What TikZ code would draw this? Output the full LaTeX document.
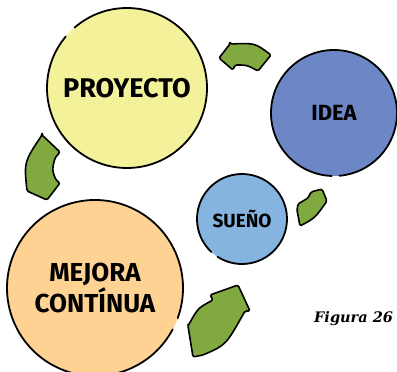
\documentclass[tikz,border=0pt]{standalone}
\usepackage{fontspec}
\setmainfont{Fira Sans}
\newfontfamily\capfont{DejaVu Serif}
\definecolor{cyel}{HTML}{F3F199}
\definecolor{corg}{HTML}{FDD293}
\definecolor{cidea}{HTML}{6D87C6}
\definecolor{csue}{HTML}{85B4E0}
\definecolor{cgrn}{HTML}{80AA40}
\begin{document}
\begin{tikzpicture}[x=1pt,y=-1pt,
  bubble/.style={circle,inner sep=0pt,outer sep=0pt,align=center,
    font=\fontsize{26}{29}\selectfont\bfseries},
  outline/.style={line width=1.8pt,line cap=round},
  garrow/.style={fill=cgrn,draw=black,line width=1.6pt,line join=round,rounded corners=1.5pt}]
\useasboundingbox (0,0) rectangle (397,372);
% circles
\node[bubble,fill=cyel,minimum size=160pt,font=\fontsize{27}{29}\selectfont\bfseries] (pro) at (127,88) {PROYECTO};
\node[bubble,fill=cidea,minimum size=126pt,font=\fontsize{22}{24}\selectfont\bfseries] (idea) at (334,113) {IDEA};
\node[bubble,fill=csue,minimum size=90pt,font=\fontsize{19}{21}\selectfont\bfseries] (sue) at (242,219) {SUEÑO};
\node[bubble,fill=corg,minimum size=176pt] (mej) at (95,288) {MEJORA\\CONTÍNUA};
% outlines with small gaps
\draw[outline] (pro.center) ++(229:80) arc[start angle=229,end angle=580,radius=80];
\draw[outline] (idea.center) ++(92:63) arc[start angle=92,end angle=445,radius=63];
\draw[outline] (sue.center) ++(133:45) arc[start angle=133,end angle=483,radius=45];
\draw[outline] (mej.center) ++(28:88) arc[start angle=28,end angle=380,radius=88];
% green arrows
\draw[garrow] (230,44) -- (219,58) -- (233,70) -- (235,65) .. controls (247,65) .. (258,71) -- (271,55) .. controls (255,43) .. (230,44) -- cycle;
\draw[garrow] (42,135) -- (60,152) -- (55,158) .. controls (52,170) .. (56,180) -- (60,183) -- (47,200) -- (27,191) .. controls (24,162) .. (42,135) -- cycle;
\draw[garrow] (297,210) -- (300,226) .. controls (315,218) .. (327,201) -- (322,189) -- (311,192) -- (308,198) -- (298,204) -- cycle;
\draw[garrow] (188,326) -- (193,357) -- (203,355) .. controls (226,345) .. (245,311) -- (250,311) -- (238,285) -- (210,295) -- (213,300) .. controls (198,308) .. (188,326) -- cycle;
% caption
\node[anchor=base west,inner sep=0pt,font=\capfont\fontsize{14.5}{16}\selectfont\bfseries\itshape] (cap) at (314,322) {Figura 26};
\end{tikzpicture}
\end{document}
